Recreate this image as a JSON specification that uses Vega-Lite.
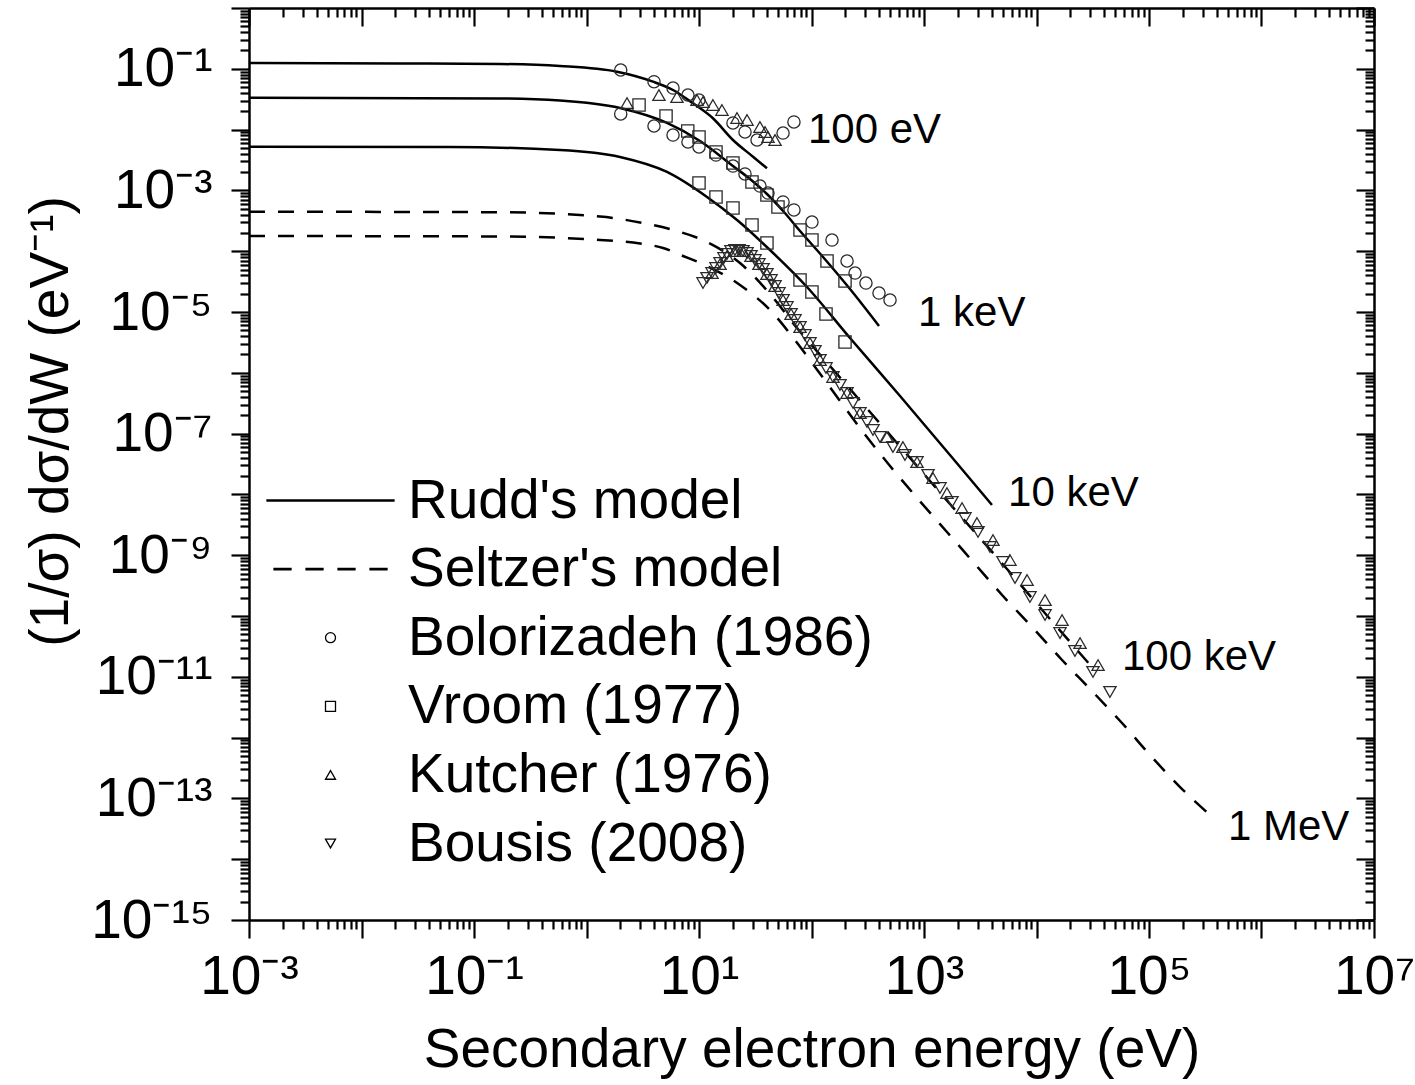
{
  "$schema": "https://vega.github.io/schema/vega-lite/v6.json",
  "width": 1125,
  "height": 912,
  "autosize": {"type": "none"},
  "padding": {"left": 249, "top": 8, "right": 41, "bottom": 165},
  "background": "white",
  "config": {
    "font": "Liberation Sans",
    "view": {"stroke": null},
    "axis": {"grid": false, "domainColor": "black", "domainWidth": 2.5, "tickColor": "black", "tickWidth": 2.2, "labelColor": "black", "titleColor": "black", "labelFont": "Liberation Sans", "titleFont": "Liberation Sans", "titleFontWeight": "normal"}
  },
  "datasets": {
    "rudd": [
      {"curve": "100 eV", "E": 0.001, "V": 0.1245},
      {"curve": "100 eV", "E": 0.02198, "V": 0.1222},
      {"curve": "100 eV", "E": 0.1702, "V": 0.1199},
      {"curve": "100 eV", "E": 0.5808, "V": 0.1112},
      {"curve": "100 eV", "E": 1.866, "V": 0.08954},
      {"curve": "100 eV", "E": 3.899, "V": 0.06138},
      {"curve": "100 eV", "E": 5.875, "V": 0.04477},
      {"curve": "100 eV", "E": 8.851, "V": 0.02704},
      {"curve": "100 eV", "E": 13.3, "V": 0.01535},
      {"curve": "100 eV", "E": 20.04, "V": 0.006745},
      {"curve": "100 eV", "E": 30.2, "V": 0.003581},
      {"curve": "100 eV", "E": 40.18, "V": 0.002307},
      {"curve": "1 keV", "E": 0.001, "V": 0.0335},
      {"curve": "1 keV", "E": 0.1702, "V": 0.03249},
      {"curve": "1 keV", "E": 0.5808, "V": 0.03011},
      {"curve": "1 keV", "E": 1.986, "V": 0.02265},
      {"curve": "1 keV", "E": 5.196, "V": 0.01285},
      {"curve": "1 keV", "E": 10.21, "V": 0.00649},
      {"curve": "1 keV", "E": 20.04, "V": 0.002519},
      {"curve": "1 keV", "E": 28.4, "V": 0.001539},
      {"curve": "1 keV", "E": 40.18, "V": 0.0008727},
      {"curve": "1 keV", "E": 56.97, "V": 0.0004413},
      {"curve": "1 keV", "E": 79.07, "V": 0.0002149},
      {"curve": "1 keV", "E": 126.6, "V": 8.035e-5},
      {"curve": "1 keV", "E": 219.9, "V": 2.388e-5},
      {"curve": "1 keV", "E": 398.1, "V": 5.888e-6},
      {"curve": "10 keV", "E": 0.001, "V": 0.005236},
      {"curve": "10 keV", "E": 0.06124, "V": 0.005176},
      {"curve": "10 keV", "E": 0.5808, "V": 0.004615},
      {"curve": "10 keV", "E": 1.986, "V": 0.00354},
      {"curve": "10 keV", "E": 5.196, "V": 0.002009},
      {"curve": "10 keV", "E": 11.78, "V": 0.000778},
      {"curve": "10 keV", "E": 21.78, "V": 0.0003258},
      {"curve": "10 keV", "E": 42.75, "V": 0.0001046},
      {"curve": "10 keV", "E": 91.2, "V": 2.577e-5},
      {"curve": "10 keV", "E": 219.9, "V": 3.733e-6},
      {"curve": "10 keV", "E": 612.4, "V": 4.15e-7},
      {"curve": "10 keV", "E": 1702, "V": 4.446e-8},
      {"curve": "10 keV", "E": 4018, "V": 6.699e-9}
    ],
    "seltzer": [
      {"curve": "100 keV", "E": 0.001, "V": 4.462e-4},
      {"curve": "100 keV", "E": 0.1702, "V": 4.378e-4},
      {"curve": "100 keV", "E": 1.318, "V": 3.722e-4},
      {"curve": "100 keV", "E": 2.99, "V": 2.965e-4},
      {"curve": "100 keV", "E": 5.875, "V": 2.233e-4},
      {"curve": "100 keV", "E": 11.78, "V": 1.417e-4},
      {"curve": "100 keV", "E": 23.14, "V": 6.39e-5},
      {"curve": "100 keV", "E": 42.75, "V": 1.977e-5},
      {"curve": "100 keV", "E": 74.3, "V": 5.458e-6},
      {"curve": "100 keV", "E": 145.9, "V": 1.294e-6},
      {"curve": "100 keV", "E": 331.1, "V": 2.265e-7},
      {"curve": "100 keV", "E": 751.6, "V": 3.972e-8},
      {"curve": "100 keV", "E": 1702, "V": 6.95e-9},
      {"curve": "100 keV", "E": 4742, "V": 8.035e-10},
      {"curve": "100 keV", "E": 13183, "V": 8.93e-11},
      {"curve": "100 keV", "E": 31120, "V": 1.449e-11},
      {"curve": "1 MeV", "E": 0.001, "V": 1.778e-4},
      {"curve": "1 MeV", "E": 0.1702, "V": 1.746e-4},
      {"curve": "1 MeV", "E": 1.318, "V": 1.528e-4},
      {"curve": "1 MeV", "E": 2.99, "V": 1.339e-4},
      {"curve": "1 MeV", "E": 4.786, "V": 1.129e-4},
      {"curve": "1 MeV", "E": 7.211, "V": 8.337e-5},
      {"curve": "1 MeV", "E": 11.78, "V": 5.71e-5},
      {"curve": "1 MeV", "E": 23.14, "V": 2.78e-5},
      {"curve": "1 MeV", "E": 42.75, "V": 1.079e-5},
      {"curve": "1 MeV", "E": 71.33, "V": 3.459e-6},
      {"curve": "1 MeV", "E": 114.3, "V": 1.071e-6},
      {"curve": "1 MeV", "E": 179.3, "V": 3.436e-7},
      {"curve": "1 MeV", "E": 287.1, "V": 1.062e-7},
      {"curve": "1 MeV", "E": 498.9, "V": 2.931e-8},
      {"curve": "1 MeV", "E": 885.1, "V": 8.395e-9},
      {"curve": "1 MeV", "E": 1600, "V": 2.41e-9},
      {"curve": "1 MeV", "E": 2838, "V": 7.161e-10},
      {"curve": "1 MeV", "E": 5035, "V": 2.133e-10},
      {"curve": "1 MeV", "E": 9311, "V": 6.353e-11},
      {"curve": "1 MeV", "E": 16870, "V": 1.888e-11},
      {"curve": "1 MeV", "E": 31120, "V": 5.834e-12},
      {"curve": "1 MeV", "E": 57540, "V": 1.738e-12},
      {"curve": "1 MeV", "E": 102100, "V": 5.176e-13},
      {"curve": "1 MeV", "E": 188800, "V": 1.538e-13},
      {"curve": "1 MeV", "E": 348600, "V": 5.333e-14}
    ],
    "points": [
      {"series": "Bolorizadeh (1986)", "E": 2.014, "V": 0.09556},
      {"series": "Bolorizadeh (1986)", "E": 3.981, "V": 0.06138},
      {"series": "Bolorizadeh (1986)", "E": 5.875, "V": 0.04831},
      {"series": "Bolorizadeh (1986)", "E": 7.98, "V": 0.03707},
      {"series": "Bolorizadeh (1986)", "E": 10.0, "V": 0.03069},
      {"series": "Bolorizadeh (1986)", "E": 20.04, "V": 0.01285},
      {"series": "Bolorizadeh (1986)", "E": 25.64, "V": 0.009135},
      {"series": "Bolorizadeh (1986)", "E": 32.81, "V": 0.006745},
      {"series": "Bolorizadeh (1986)", "E": 55.85, "V": 0.00879},
      {"series": "Bolorizadeh (1986)", "E": 69.82, "V": 0.01334},
      {"series": "Bolorizadeh (1986)", "E": 2.014, "V": 0.01806},
      {"series": "Bolorizadeh (1986)", "E": 3.981, "V": 0.01146},
      {"series": "Bolorizadeh (1986)", "E": 5.875, "V": 0.008147},
      {"series": "Bolorizadeh (1986)", "E": 7.98, "V": 0.006252},
      {"series": "Bolorizadeh (1986)", "E": 10.0, "V": 0.005176},
      {"series": "Bolorizadeh (1986)", "E": 14.16, "V": 0.003819},
      {"series": "Bolorizadeh (1986)", "E": 20.04, "V": 0.002519},
      {"series": "Bolorizadeh (1986)", "E": 25.64, "V": 0.001862},
      {"series": "Bolorizadeh (1986)", "E": 34.83, "V": 0.001181},
      {"series": "Bolorizadeh (1986)", "E": 41.02, "V": 0.0009057},
      {"series": "Bolorizadeh (1986)", "E": 55.85, "V": 0.0006446},
      {"series": "Bolorizadeh (1986)", "E": 69.82, "V": 0.0004764},
      {"series": "Bolorizadeh (1986)", "E": 100.9, "V": 0.000302},
      {"series": "Bolorizadeh (1986)", "E": 152.1, "V": 0.0001528},
      {"series": "Bolorizadeh (1986)", "E": 207.0, "V": 6.9e-5},
      {"series": "Bolorizadeh (1986)", "E": 243.8, "V": 4.379e-5},
      {"series": "Bolorizadeh (1986)", "E": 304.8, "V": 2.998e-5},
      {"series": "Bolorizadeh (1986)", "E": 398.1, "V": 2.053e-5},
      {"series": "Bolorizadeh (1986)", "E": 498.9, "V": 1.574e-5},
      {"series": "Vroom (1977)", "E": 2.931, "V": 0.0254},
      {"series": "Vroom (1977)", "E": 5.093, "V": 0.01674},
      {"series": "Vroom (1977)", "E": 7.943, "V": 0.009484},
      {"series": "Vroom (1977)", "E": 10.0, "V": 0.007551},
      {"series": "Vroom (1977)", "E": 14.16, "V": 0.004284},
      {"series": "Vroom (1977)", "E": 20.04, "V": 0.002824},
      {"series": "Vroom (1977)", "E": 29.58, "V": 0.001374},
      {"series": "Vroom (1977)", "E": 40.18, "V": 0.0008395},
      {"series": "Vroom (1977)", "E": 50.35, "V": 0.0005333},
      {"series": "Vroom (1977)", "E": 79.07, "V": 0.0002233},
      {"series": "Vroom (1977)", "E": 100.9, "V": 0.0001528},
      {"series": "Vroom (1977)", "E": 137.4, "V": 6.9e-5},
      {"series": "Vroom (1977)", "E": 198.6, "V": 3.235e-5},
      {"series": "Vroom (1977)", "E": 10.0, "V": 0.001324},
      {"series": "Vroom (1977)", "E": 14.16, "V": 0.000778},
      {"series": "Vroom (1977)", "E": 20.04, "V": 0.000514},
      {"series": "Vroom (1977)", "E": 29.58, "V": 0.0002698},
      {"series": "Vroom (1977)", "E": 40.18, "V": 0.0001364},
      {"series": "Vroom (1977)", "E": 79.07, "V": 3.357e-5},
      {"series": "Vroom (1977)", "E": 100.9, "V": 2.133e-5},
      {"series": "Vroom (1977)", "E": 134.6, "V": 9.27e-6},
      {"series": "Vroom (1977)", "E": 198.6, "V": 3.212e-6},
      {"series": "Kutcher (1976)", "E": 4.406, "V": 0.03707},
      {"series": "Kutcher (1976)", "E": 6.368, "V": 0.03436},
      {"series": "Kutcher (1976)", "E": 9.594, "V": 0.03069},
      {"series": "Kutcher (1976)", "E": 10.86, "V": 0.02844},
      {"series": "Kutcher (1976)", "E": 13.3, "V": 0.0254},
      {"series": "Kutcher (1976)", "E": 16.0, "V": 0.02101},
      {"series": "Kutcher (1976)", "E": 21.78, "V": 0.01552},
      {"series": "Kutcher (1976)", "E": 26.73, "V": 0.01439},
      {"series": "Kutcher (1976)", "E": 34.83, "V": 0.01104},
      {"series": "Kutcher (1976)", "E": 38.64, "V": 0.009135},
      {"series": "Kutcher (1976)", "E": 41.02, "V": 0.007551},
      {"series": "Kutcher (1976)", "E": 47.42, "V": 0.006745},
      {"series": "Kutcher (1976)", "E": 2.291, "V": 0.02738},
      {"series": "Kutcher (1976)", "E": 13.05, "V": 4.379e-5},
      {"series": "Kutcher (1976)", "E": 15.38, "V": 6.152e-5},
      {"series": "Kutcher (1976)", "E": 17.74, "V": 8.337e-5},
      {"series": "Kutcher (1976)", "E": 20.89, "V": 1.008e-4},
      {"series": "Kutcher (1976)", "E": 24.6, "V": 1.008e-4},
      {"series": "Kutcher (1976)", "E": 28.98, "V": 8.337e-5},
      {"series": "Kutcher (1976)", "E": 34.12, "V": 6.152e-5},
      {"series": "Kutcher (1976)", "E": 40.18, "V": 4.217e-5},
      {"series": "Kutcher (1976)", "E": 47.42, "V": 2.677e-5},
      {"series": "Kutcher (1976)", "E": 55.85, "V": 1.574e-5},
      {"series": "Kutcher (1976)", "E": 65.77, "V": 9.27e-6},
      {"series": "Kutcher (1976)", "E": 79.07, "V": 5.663e-6},
      {"series": "Kutcher (1976)", "E": 97.0, "V": 3.09e-6},
      {"series": "Kutcher (1976)", "E": 119.1, "V": 1.625e-6},
      {"series": "Kutcher (1976)", "E": 155.2, "V": 8.531e-7},
      {"series": "Kutcher (1976)", "E": 207.0, "V": 4.654e-7},
      {"series": "Kutcher (1976)", "E": 269.8, "V": 2.181e-7},
      {"series": "Kutcher (1976)", "E": 468.8, "V": 8.79e-8},
      {"series": "Kutcher (1976)", "E": 650.1, "V": 6.02e-8},
      {"series": "Kutcher (1976)", "E": 866.9, "V": 3.41e-8},
      {"series": "Kutcher (1976)", "E": 1202, "V": 1.862e-8},
      {"series": "Kutcher (1976)", "E": 1600, "V": 1.054e-8},
      {"series": "Kutcher (1976)", "E": 2178, "V": 5.971e-9},
      {"series": "Kutcher (1976)", "E": 2958, "V": 3.388e-9},
      {"series": "Kutcher (1976)", "E": 4102, "V": 1.778e-9},
      {"series": "Kutcher (1976)", "E": 5808, "V": 8.34e-10},
      {"series": "Kutcher (1976)", "E": 8241, "V": 3.91e-10},
      {"series": "Kutcher (1976)", "E": 11910, "V": 1.832e-10},
      {"series": "Kutcher (1976)", "E": 16870, "V": 8.59e-11},
      {"series": "Kutcher (1976)", "E": 24380, "V": 3.594e-11},
      {"series": "Kutcher (1976)", "E": 35240, "V": 1.563e-11},
      {"series": "Bousis (2008)", "E": 10.86, "V": 2.998e-5},
      {"series": "Bousis (2008)", "E": 11.78, "V": 3.624e-5},
      {"series": "Bousis (2008)", "E": 13.05, "V": 4.379e-5},
      {"series": "Bousis (2008)", "E": 14.16, "V": 5.29e-5},
      {"series": "Bousis (2008)", "E": 15.38, "V": 6.39e-5},
      {"series": "Bousis (2008)", "E": 16.67, "V": 7.727e-5},
      {"series": "Bousis (2008)", "E": 17.74, "V": 8.99e-5},
      {"series": "Bousis (2008)", "E": 19.23, "V": 1.008e-4},
      {"series": "Bousis (2008)", "E": 20.89, "V": 1.046e-4},
      {"series": "Bousis (2008)", "E": 22.7, "V": 1.046e-4},
      {"series": "Bousis (2008)", "E": 24.6, "V": 1.008e-4},
      {"series": "Bousis (2008)", "E": 26.73, "V": 9.336e-5},
      {"series": "Bousis (2008)", "E": 28.98, "V": 8.337e-5},
      {"series": "Bousis (2008)", "E": 31.47, "V": 7.161e-5},
      {"series": "Bousis (2008)", "E": 34.12, "V": 6.152e-5},
      {"series": "Bousis (2008)", "E": 37.07, "V": 5.097e-5},
      {"series": "Bousis (2008)", "E": 40.18, "V": 4.217e-5},
      {"series": "Bousis (2008)", "E": 43.65, "V": 3.357e-5},
      {"series": "Bousis (2008)", "E": 47.42, "V": 2.677e-5},
      {"series": "Bousis (2008)", "E": 51.4, "V": 2.053e-5},
      {"series": "Bousis (2008)", "E": 55.85, "V": 1.574e-5},
      {"series": "Bousis (2008)", "E": 60.53, "V": 1.208e-5},
      {"series": "Bousis (2008)", "E": 65.77, "V": 9.27e-6},
      {"series": "Bousis (2008)", "E": 71.33, "V": 7.382e-6},
      {"series": "Bousis (2008)", "E": 79.07, "V": 5.663e-6},
      {"series": "Bousis (2008)", "E": 87.5, "V": 4.184e-6},
      {"series": "Bousis (2008)", "E": 97.0, "V": 3.09e-6},
      {"series": "Bousis (2008)", "E": 107.4, "V": 2.284e-6},
      {"series": "Bousis (2008)", "E": 119.1, "V": 1.625e-6},
      {"series": "Bousis (2008)", "E": 134.6, "V": 1.199e-6},
      {"series": "Bousis (2008)", "E": 155.2, "V": 8.531e-7},
      {"series": "Bousis (2008)", "E": 179.3, "V": 6.3e-7},
      {"series": "Bousis (2008)", "E": 207.0, "V": 4.654e-7},
      {"series": "Bousis (2008)", "E": 233.9, "V": 3.187e-7},
      {"series": "Bousis (2008)", "E": 269.8, "V": 2.181e-7},
      {"series": "Bousis (2008)", "E": 311.2, "V": 1.552e-7},
      {"series": "Bousis (2008)", "E": 352.4, "V": 1.146e-7},
      {"series": "Bousis (2008)", "E": 406.4, "V": 8.79e-8},
      {"series": "Bousis (2008)", "E": 529.8, "V": 6.02e-8},
      {"series": "Bousis (2008)", "E": 677.6, "V": 4.446e-8},
      {"series": "Bousis (2008)", "E": 866.9, "V": 3.41e-8},
      {"series": "Bousis (2008)", "E": 1086, "V": 2.085e-8},
      {"series": "Bousis (2008)", "E": 1387, "V": 1.274e-8},
      {"series": "Bousis (2008)", "E": 1774, "V": 7.499e-9},
      {"series": "Bousis (2008)", "E": 2314, "V": 4.09e-9},
      {"series": "Bousis (2008)", "E": 3020, "V": 2.41e-9},
      {"series": "Bousis (2008)", "E": 3862, "V": 1.364e-9},
      {"series": "Bousis (2008)", "E": 5035, "V": 7.73e-10},
      {"series": "Bousis (2008)", "E": 6442, "V": 4.217e-10},
      {"series": "Bousis (2008)", "E": 8750, "V": 2.052e-10},
      {"series": "Bousis (2008)", "E": 11910, "V": 1.038e-10},
      {"series": "Bousis (2008)", "E": 16180, "V": 5.248e-11},
      {"series": "Bousis (2008)", "E": 21980, "V": 2.655e-11},
      {"series": "Bousis (2008)", "E": 31770, "V": 1.2e-11},
      {"series": "Bousis (2008)", "E": 44980, "V": 5.623e-12}
    ],
    "labels": [
      {"label": "100 eV", "E": 93.1, "V": 0.00985},
      {"label": "1 keV", "E": 885, "V": 9.64e-6},
      {"label": "10 keV", "E": 5585, "V": 1.054e-8},
      {"label": "100 keV", "E": 57540, "V": 2.118e-11},
      {"label": "1 MeV", "E": 503500, "V": 3.388e-14}
    ]
  },
  "resolve": {"axis": {"x": "independent", "y": "independent"}},
  "layer": [
    {
      "data": {"name": "rudd"},
      "mark": {"type": "line", "interpolate": "monotone", "color": "black", "strokeWidth": 2.5},
      "encoding": {
        "x": {"field": "E", "type": "quantitative",
          "scale": {"type": "log", "domain": [0.001, 10000000], "nice": false},
          "axis": {
            "orient": "bottom",
            "values": [1e-3,2e-3,3e-3,4e-3,5e-3,6e-3,7e-3,8e-3,9e-3,1e-2,2e-2,3e-2,4e-2,5e-2,6e-2,7e-2,8e-2,9e-2,1e-1,2e-1,3e-1,4e-1,5e-1,6e-1,7e-1,8e-1,9e-1,1,2,3,4,5,6,7,8,9,10,20,30,40,50,60,70,80,90,100,200,300,400,500,600,700,800,900,1e3,2e3,3e3,4e3,5e3,6e3,7e3,8e3,9e3,1e4,2e4,3e4,4e4,5e4,6e4,7e4,8e4,9e4,1e5,2e5,3e5,4e5,5e5,6e5,7e5,8e5,9e5,1e6,2e6,3e6,4e6,5e6,6e6,7e6,8e6,9e6,1e7],
            "tickSize": {"condition": {"test": "abs(log(datum.value)/LN10 - round(log(datum.value)/LN10)) < 0.01", "value": 18}, "value": 9},
            "labelExpr": "abs(log(datum.value)/LN10 - round(log(datum.value)/LN10)) < 0.01 && round(log(datum.value)/LN10) % 2 != 0 ? '10' + (round(log(datum.value)/LN10) < 0 ? '⁻' : '') + (abs(round(log(datum.value)/LN10)) >= 10 ? substring('⁰¹²³⁴⁵⁶⁷⁸⁹', floor(abs(round(log(datum.value)/LN10))/10), floor(abs(round(log(datum.value)/LN10))/10) + 1) : '') + substring('⁰¹²³⁴⁵⁶⁷⁸⁹', abs(round(log(datum.value)/LN10)) % 10, abs(round(log(datum.value)/LN10)) % 10 + 1) : ''",
            "labelFontSize": 55,
            "labelPadding": 12,
            "labelOverlap": false,
            "labelFlush": false,
            "labelBound": false,
            "title": "Secondary electron energy (eV)",
            "titleFontSize": 55,
            "titleAnchor": "middle",
            "titleBaseline": "alphabetic",
            "titleY": 146
          }
        },
        "y": {"field": "V", "type": "quantitative",
          "scale": {"type": "log", "domain": [1e-15, 1], "nice": false},
          "axis": {
            "orient": "left",
            "values": [1e-15,2e-15,3e-15,4e-15,5e-15,6e-15,7e-15,8e-15,9e-15,1e-14,2e-14,3e-14,4e-14,5e-14,6e-14,7e-14,8e-14,9e-14,1e-13,2e-13,3e-13,4e-13,5e-13,6e-13,7e-13,8e-13,9e-13,1e-12,2e-12,3e-12,4e-12,5e-12,6e-12,7e-12,8e-12,9e-12,1e-11,2e-11,3e-11,4e-11,5e-11,6e-11,7e-11,8e-11,9e-11,1e-10,2e-10,3e-10,4e-10,5e-10,6e-10,7e-10,8e-10,9e-10,1e-9,2e-9,3e-9,4e-9,5e-9,6e-9,7e-9,8e-9,9e-9,1e-8,2e-8,3e-8,4e-8,5e-8,6e-8,7e-8,8e-8,9e-8,1e-7,2e-7,3e-7,4e-7,5e-7,6e-7,7e-7,8e-7,9e-7,1e-6,2e-6,3e-6,4e-6,5e-6,6e-6,7e-6,8e-6,9e-6,1e-5,2e-5,3e-5,4e-5,5e-5,6e-5,7e-5,8e-5,9e-5,1e-4,2e-4,3e-4,4e-4,5e-4,6e-4,7e-4,8e-4,9e-4,1e-3,2e-3,3e-3,4e-3,5e-3,6e-3,7e-3,8e-3,9e-3,1e-2,2e-2,3e-2,4e-2,5e-2,6e-2,7e-2,8e-2,9e-2,1e-1,2e-1,3e-1,4e-1,5e-1,6e-1,7e-1,8e-1,9e-1,1],
            "tickSize": {"condition": {"test": "abs(log(datum.value)/LN10 - round(log(datum.value)/LN10)) < 0.01", "value": 18}, "value": 9},
            "labelExpr": "abs(log(datum.value)/LN10 - round(log(datum.value)/LN10)) < 0.01 && round(log(datum.value)/LN10) % 2 != 0 ? '10' + (round(log(datum.value)/LN10) < 0 ? '⁻' : '') + (abs(round(log(datum.value)/LN10)) >= 10 ? substring('⁰¹²³⁴⁵⁶⁷⁸⁹', floor(abs(round(log(datum.value)/LN10))/10), floor(abs(round(log(datum.value)/LN10))/10) + 1) : '') + substring('⁰¹²³⁴⁵⁶⁷⁸⁹', abs(round(log(datum.value)/LN10)) % 10, abs(round(log(datum.value)/LN10)) % 10 + 1) : ''",
            "labelFontSize": 55,
            "labelPadding": 19,
            "labelOverlap": false,
            "labelFlush": false,
            "labelBound": false,
            "title": "(1/σ) dσ/dW (eV⁻¹)",
            "titleFontSize": 55,
            "titleAngle": -90,
            "titleAlign": "center",
            "titleBaseline": "alphabetic",
            "titleX": -182,
            "titleY": 413
          }
        },
        "detail": {"field": "curve", "type": "nominal"}
      }
    },
    {
      "data": {"name": "seltzer"},
      "mark": {"type": "line", "interpolate": "monotone", "color": "black", "strokeWidth": 2.5, "strokeDash": [16, 13]},
      "encoding": {
        "x": {"field": "E", "type": "quantitative",
          "scale": {"type": "log", "domain": [0.001, 10000000], "nice": false},
          "axis": {
            "orient": "top",
            "values": [1e-3,2e-3,3e-3,4e-3,5e-3,6e-3,7e-3,8e-3,9e-3,1e-2,2e-2,3e-2,4e-2,5e-2,6e-2,7e-2,8e-2,9e-2,1e-1,2e-1,3e-1,4e-1,5e-1,6e-1,7e-1,8e-1,9e-1,1,2,3,4,5,6,7,8,9,10,20,30,40,50,60,70,80,90,100,200,300,400,500,600,700,800,900,1e3,2e3,3e3,4e3,5e3,6e3,7e3,8e3,9e3,1e4,2e4,3e4,4e4,5e4,6e4,7e4,8e4,9e4,1e5,2e5,3e5,4e5,5e5,6e5,7e5,8e5,9e5,1e6,2e6,3e6,4e6,5e6,6e6,7e6,8e6,9e6,1e7],
            "tickSize": {"condition": {"test": "abs(log(datum.value)/LN10 - round(log(datum.value)/LN10)) < 0.01", "value": -18}, "value": -9},
            "labels": false,
            "title": null
          }
        },
        "y": {"field": "V", "type": "quantitative",
          "scale": {"type": "log", "domain": [1e-15, 1], "nice": false},
          "axis": {
            "orient": "right",
            "values": [1e-15,2e-15,3e-15,4e-15,5e-15,6e-15,7e-15,8e-15,9e-15,1e-14,2e-14,3e-14,4e-14,5e-14,6e-14,7e-14,8e-14,9e-14,1e-13,2e-13,3e-13,4e-13,5e-13,6e-13,7e-13,8e-13,9e-13,1e-12,2e-12,3e-12,4e-12,5e-12,6e-12,7e-12,8e-12,9e-12,1e-11,2e-11,3e-11,4e-11,5e-11,6e-11,7e-11,8e-11,9e-11,1e-10,2e-10,3e-10,4e-10,5e-10,6e-10,7e-10,8e-10,9e-10,1e-9,2e-9,3e-9,4e-9,5e-9,6e-9,7e-9,8e-9,9e-9,1e-8,2e-8,3e-8,4e-8,5e-8,6e-8,7e-8,8e-8,9e-8,1e-7,2e-7,3e-7,4e-7,5e-7,6e-7,7e-7,8e-7,9e-7,1e-6,2e-6,3e-6,4e-6,5e-6,6e-6,7e-6,8e-6,9e-6,1e-5,2e-5,3e-5,4e-5,5e-5,6e-5,7e-5,8e-5,9e-5,1e-4,2e-4,3e-4,4e-4,5e-4,6e-4,7e-4,8e-4,9e-4,1e-3,2e-3,3e-3,4e-3,5e-3,6e-3,7e-3,8e-3,9e-3,1e-2,2e-2,3e-2,4e-2,5e-2,6e-2,7e-2,8e-2,9e-2,1e-1,2e-1,3e-1,4e-1,5e-1,6e-1,7e-1,8e-1,9e-1,1],
            "tickSize": {"condition": {"test": "abs(log(datum.value)/LN10 - round(log(datum.value)/LN10)) < 0.01", "value": -18}, "value": -9},
            "labels": false,
            "title": null
          }
        },
        "detail": {"field": "curve", "type": "nominal"}
      }
    },
    {
      "data": {"name": "points"},
      "mark": {"type": "point", "filled": false, "stroke": "#2a2a2a", "opacity": 1, "size": 150},
      "encoding": {
        "x": {"field": "E", "type": "quantitative", "scale": {"type": "log", "domain": [0.001, 10000000], "nice": false}, "axis": null},
        "y": {"field": "V", "type": "quantitative", "scale": {"type": "log", "domain": [1e-15, 1], "nice": false}, "axis": null},
        "strokeWidth": {"value": 1.3},
        "shape": {"field": "series", "type": "nominal",
          "scale": {
            "domain": ["Rudd's model", "Seltzer's model", "Bolorizadeh (1986)", "Vroom (1977)", "Kutcher (1976)", "Bousis (2008)"],
            "range": ["M-12.7,-0.13H12.7V0.13H-12.7Z", "M-11.3,-0.13H-7.9V0.13H-11.3ZM-4.9,-0.13H-1.5V0.13H-4.9ZM1.5,-0.13H4.9V0.13H1.5ZM7.9,-0.13H11.3V0.13H7.9Z", "circle", "square", "triangle-up", "triangle-down"]
          },
          "legend": {
            "orient": "none",
            "legendX": 54,
            "legendY": 465,
            "title": null,
            "padding": 0,
            "labelFontSize": 55,
            "labelFont": "Liberation Sans",
            "labelColor": "black",
            "labelOffset": 50,
            "labelLimit": 800,
            "symbolSize": 100,
            "symbolStrokeColor": "black",
            "symbolStrokeWidth": 1.3,
            "symbolOpacity": 1,
            "symbolFillColor": "transparent",
            "rowPadding": 12.6
          }
        }
      }
    },
    {
      "data": {"name": "labels"},
      "mark": {"type": "text", "align": "left", "baseline": "middle", "fontSize": 42, "font": "Liberation Sans", "color": "black"},
      "encoding": {
        "x": {"field": "E", "type": "quantitative", "scale": {"type": "log", "domain": [0.001, 10000000], "nice": false}, "axis": null},
        "y": {"field": "V", "type": "quantitative", "scale": {"type": "log", "domain": [1e-15, 1], "nice": false}, "axis": null},
        "text": {"field": "label", "type": "nominal"}
      }
    }
  ]
}
